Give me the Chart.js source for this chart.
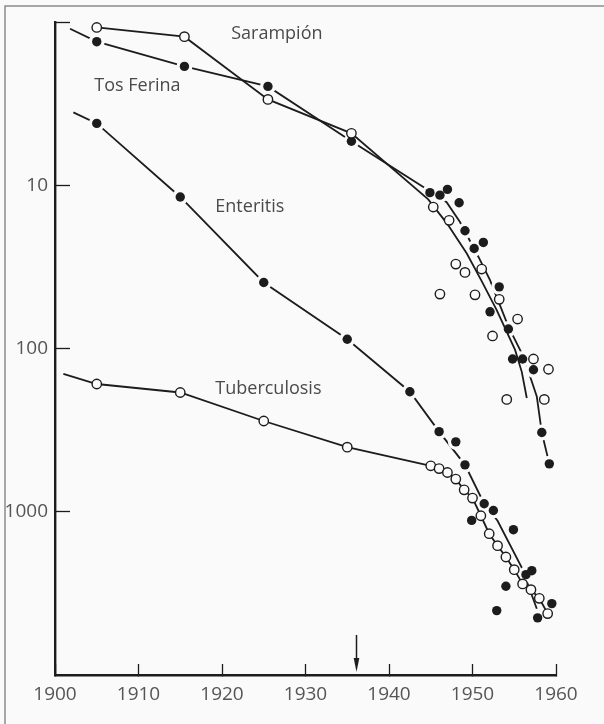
<!DOCTYPE html>
<html>
<head>
<meta charset="utf-8">
<script src="https://cdn.jsdelivr.net/npm/chart.js@4.4.1/dist/chart.umd.min.js"></script>
<style>
  html, body { margin: 0; padding: 0; background: #fafafa; }
  canvas { display: block; }
</style>
</head>
<body>
<canvas id="chart" width="604" height="724"></canvas>
<script>
// ejes: años (x) y tasa en escala logarítmica invertida (y)
const xTicks = [1900, 1910, 1920, 1930, 1940, 1950, 1960];
const yTicks = [1, 10, 100, 1000];

// Sarampión: círculos abiertos, línea continua
const sarampionYears = [1905, 1915.5, 1925.5, 1935.5, 1945.3, 1946.1, 1947.2, 1948, 1949.1, 1950.3, 1951.1, 1952.4, 1953.2, 1954.1, 1955.4, 1957.3, 1958.6, 1959.1];
const sarampionRates = [1.08, 1.23, 2.98, 4.81, 13.6, 46.4, 16.4, 30.4, 34.2, 46.9, 32.6, 83.8, 50.0, 205, 66.0, 116, 205, 134];
const sarampionCurveYears = [1905, 1915.5, 1925.5, 1935.5, 1944.7, 1947.0, 1949.3, 1951.1, 1952.9, 1955.1, 1955.9, 1956.5];
const sarampionCurveRates = [1.08, 1.23, 2.98, 4.81, 12.2, 17.3, 26.1, 38.7, 58.2, 102, 139, 201];

// Tos Ferina: círculos llenos
const tosYears = [1905, 1915.5, 1925.5, 1935.5, 1944.9, 1946.1, 1947.0, 1948.4, 1949.1, 1950.2, 1951.3, 1952.1, 1953.2, 1954.3, 1954.8, 1956.0, 1957.3, 1958.3, 1959.2];
const tosRates = [1.32, 1.87, 2.48, 5.38, 11.1, 11.5, 10.6, 12.8, 19.0, 24.4, 22.4, 59.6, 41.9, 76.0, 116, 116, 135, 327, 509];
const tosCurveYears = [1901.8, 1905, 1915.5, 1925.5, 1935.5, 1944.3, 1946.9, 1948.5, 1950.7, 1952.1, 1954.3, 1956.1, 1957.7, 1958.3, 1959.2];
const tosCurveRates = [1.10, 1.32, 1.87, 2.48, 5.38, 10.4, 12.7, 16.8, 27.4, 38.1, 73.5, 112, 197, 327, 509];

// Enteritis: círculos llenos
const enteritisYears = [1905, 1915, 1925, 1935, 1942.5, 1946.0, 1948.0, 1949.1, 1949.9, 1951.4, 1952.5, 1952.9, 1954.0, 1954.9, 1956.4, 1957.1, 1957.8, 1959.5];
const enteritisRates = [4.18, 11.8, 39.4, 87.8, 184, 323, 373, 516, 1130, 893, 982, 4032, 2862, 1288, 2428, 2296, 4467, 3654];
const enteritisCurveYears = [1902.2, 1905, 1915, 1925, 1935, 1942.5, 1946.0, 1949.1, 1951.4, 1953.0, 1955.9, 1957.7];
const enteritisCurveRates = [3.58, 4.18, 11.8, 39.4, 87.8, 184, 323, 516, 893, 1135, 2200, 3926];

// Tuberculosis: círculos abiertos
const tbYears = [1905, 1915, 1925, 1935, 1945, 1946, 1947, 1948, 1949, 1950, 1951, 1952, 1953, 1954, 1955, 1956, 1957, 1958, 1959];
const tbRates = [165, 186, 278, 402, 523, 544, 575, 631, 734, 825, 1058, 1363, 1614, 1893, 2263, 2768, 3000, 3391, 4206];
const tbCurveYears = [1901, ...tbYears];
const tbCurveRates = [143, ...tbRates];

// nombres de las series, anclados en coordenadas de datos
const seriesNames = ['Sarampión', 'Tos Ferina', 'Enteritis', 'Tuberculosis'];
const nameYears = [1921.1, 1904.7, 1919.2, 1919.2];
const nameRates = [1.18, 2.45, 13.6, 177];
const markYear = 1936;

const paper = '#fafafa';
const ink = '#1c1c1c';

const pts = (xs, ys) => xs.map((v, i) => ({ x: v, y: ys[i] }));

const lineStyle = { showLine: true, pointRadius: 0, pointHoverRadius: 0, borderColor: ink, borderWidth: 1.8, clip: false };
const filledStyle = { showLine: false, pointRadius: 4.7, pointBackgroundColor: ink, pointBorderWidth: 0, clip: false };
const haloStyle = { showLine: false, pointRadius: 8, pointBackgroundColor: paper, pointBorderWidth: 0, clip: false };
const openStyle = { showLine: false, pointRadius: 4.7, pointBackgroundColor: paper, pointBorderColor: ink, pointBorderWidth: 1.4, clip: false };

const paperPlugin = {
  id: 'paper',
  beforeDraw(chart) {
    const { ctx, width, height } = chart;
    ctx.save();
    ctx.fillStyle = paper;
    ctx.fillRect(0, 0, width, height);
    ctx.restore();
  },
  afterDraw(chart) {
    const { ctx, chartArea } = chart;
    const { x, y } = chart.scales;
    ctx.save();
    // marco gris (solo arriba e izquierda)
    ctx.strokeStyle = '#8c8c8c';
    ctx.lineWidth = 1.5;
    ctx.beginPath();
    ctx.moveTo(5, chart.height);
    ctx.lineTo(5, 6);
    ctx.lineTo(chart.width, 6);
    ctx.stroke();

    ctx.fillStyle = '#4a4a4a';
    ctx.font = '18px "Open Sans"';
    ctx.textAlign = 'left';
    ctx.textBaseline = 'middle';
    seriesNames.forEach((name, i) => {
      ctx.fillText(name, x.getPixelForValue(nameYears[i]), y.getPixelForValue(nameRates[i]));
    });

    // flecha sobre el eje x
    const ax = Math.round(x.getPixelForValue(markYear)) + 0.5;
    const tip = chartArea.bottom - 3;
    ctx.strokeStyle = ink;
    ctx.fillStyle = ink;
    ctx.lineWidth = 1.5;
    ctx.beginPath();
    ctx.moveTo(ax, tip - 37);
    ctx.lineTo(ax, tip - 10);
    ctx.stroke();
    ctx.beginPath();
    ctx.moveTo(ax - 2.8, tip - 14);
    ctx.lineTo(ax + 2.8, tip - 14);
    ctx.lineTo(ax, tip);
    ctx.closePath();
    ctx.fill();
    ctx.restore();
  }
};

new Chart(document.getElementById('chart'), {
  type: 'scatter',
  data: {
    datasets: [
      { ...openStyle, data: pts(tbYears, tbRates), order: 1 },
      { ...lineStyle, data: pts(tbCurveYears, tbCurveRates), order: 2 },
      { ...filledStyle, data: pts(enteritisYears, enteritisRates), order: 3 },
      { ...haloStyle, data: pts(enteritisYears, enteritisRates), order: 4 },
      { ...lineStyle, data: pts(enteritisCurveYears, enteritisCurveRates), order: 5 },
      { ...openStyle, data: pts(sarampionYears, sarampionRates), order: 6 },
      { ...lineStyle, data: pts(sarampionCurveYears, sarampionCurveRates), order: 7 },
      { ...filledStyle, data: pts(tosYears, tosRates), order: 8 },
      { ...haloStyle, data: pts(tosYears, tosRates), order: 9 },
      { ...lineStyle, data: pts(tosCurveYears, tosCurveRates), order: 10 }
    ]
  },
  options: {
    responsive: false,
    animation: false,
    devicePixelRatio: 1,
    layout: { padding: { top: 22, left: 0, right: 48, bottom: 0 } },
    plugins: { legend: { display: false }, tooltip: { enabled: false } },
    scales: {
      x: {
        type: 'linear',
        min: 1900,
        max: 1960,
        afterBuildTicks: axis => { axis.ticks = xTicks.map(v => ({ value: v })); },
        afterFit: axis => { axis.height = 49; },
        border: { display: true, color: ink, width: 2.4 },
        grid: { drawOnChartArea: false, drawTicks: true, tickLength: -11, tickWidth: 1.3, tickColor: ink },
        ticks: { padding: 19, color: '#555', font: { family: 'Open Sans', size: 19 }, maxRotation: 0, callback: v => String(v) }
      },
      y: {
        type: 'logarithmic',
        reverse: true,
        min: 1,
        max: 10000,
        afterBuildTicks: axis => { axis.ticks = yTicks.map(v => ({ value: v })); },
        afterFit: axis => {
          axis.width = 55;
          axis.paddingTop = 0;
          axis.paddingBottom = 0;
        },
        border: { display: true, color: ink, width: 2.4 },
        grid: { drawOnChartArea: false, drawTicks: true, tickLength: -15, tickWidth: 1.3, tickColor: ink },
        ticks: { padding: 22, color: '#555', font: { family: 'Open Sans', size: 19 }, callback: v => (v === 1 ? '' : String(v)) }
      }
    }
  },
  plugins: [paperPlugin]
});
</script>
</body>
</html>
